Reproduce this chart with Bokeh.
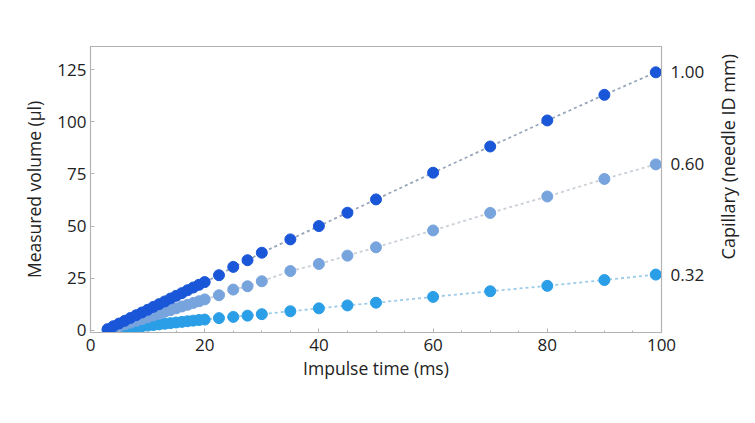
import math
from bokeh.plotting import figure
from bokeh.models import Range1d, LinearAxis, FixedTicker, SingleIntervalTicker, ColumnDataSource
from bokeh.embed import file_html
from bokeh.resources import INLINE

# Impulse time (ms)
time_ms = [3, 4, 5, 6, 7, 8, 9, 10, 11, 12, 13, 14, 15, 16, 17, 18, 19, 20,
           22.5, 25, 27.5, 30, 35, 40, 45, 50, 60, 70, 80, 90, 99]

# Measured volume (µl) per capillary (needle ID mm)
vol_100 = [0.5, 1.9, 3.2, 4.5, 5.9, 7.2, 8.5, 9.8, 11.2, 12.5, 13.8, 15.2, 16.5, 17.8, 19.2, 20.5, 21.8, 23.1,
           26.4, 30.4, 33.6, 37.2, 43.6, 50.0, 56.4, 62.8, 75.6, 88.2, 100.7, 113.0, 123.8]
vol_060 = [0.2, 1.0, 1.9, 2.8, 3.6, 4.5, 5.3, 6.2, 7.1, 7.9, 8.8, 9.6, 10.5, 11.4, 12.2, 13.1, 13.9, 14.8,
           16.8, 19.5, 21.1, 23.5, 28.4, 31.8, 35.8, 39.8, 47.9, 56.3, 64.2, 72.6, 79.6]
vol_032 = [0.1, 0.4, 0.7, 1.0, 1.3, 1.6, 1.9, 2.2, 2.5, 2.8, 3.1, 3.4, 3.7, 4.0, 4.3, 4.6, 4.9, 5.1,
           5.8, 6.4, 7.0, 7.7, 9.1, 10.5, 11.9, 13.2, 16.0, 18.7, 21.3, 24.1, 26.7]

capillary_labels = ["0.32", "0.60", "1.00"]
series = [vol_032, vol_060, vol_100]
dot_colors = ["#2a9ee6", "#78a4de", "#1a56d8"]
line_colors = ["#9ccbe8", "#c9d0d8", "#98a6bb"]

y_ticks = [0, 25, 50, 75, 100, 125]

FONT = "Open Sans"
TXT = "#222222"
GRID = "#b3b3b3"

x_range = Range1d(0, 100)
y_range = Range1d(-1.1, 136.2)

p = figure(width=755, height=418, output_backend="svg", toolbar_location=None,
           x_range=x_range, y_range=y_range,
           min_border_left=90, min_border_right=88, min_border_top=46, min_border_bottom=86)
p.xgrid.visible = False
p.ygrid.visible = False
p.outline_line_color = GRID
p.outline_line_width = 1.2
p.background_fill_color = "white"
p.border_fill_color = "white"

for vals, dc, lc in zip(series, dot_colors, line_colors):
    src = ColumnDataSource(dict(x=time_ms, y=vals))
    p.line("x", "y", source=src, line_color=lc, line_width=1.8, line_dash="3 3")
    p.scatter("x", "y", source=src, size=11, fill_color=dc, line_color=dc)

def style_axis(ax):
    ax.axis_line_color = GRID
    ax.major_tick_line_color = GRID
    ax.minor_tick_line_color = GRID
    ax.major_tick_in = 4
    ax.major_tick_out = 0
    ax.minor_tick_in = 2
    ax.minor_tick_out = 0
    ax.major_label_text_font = FONT
    ax.major_label_text_font_size = "17px"
    ax.major_label_text_color = TXT
    ax.axis_label_text_font = FONT
    ax.axis_label_text_font_size = "17.5px"
    ax.axis_label_text_font_style = "normal"
    ax.axis_label_text_color = TXT

xa = p.xaxis[0]
xa.ticker = SingleIntervalTicker(interval=20, num_minor_ticks=4)
xa.axis_label = "Impulse time (ms)"
style_axis(xa)
xa.major_label_standoff = 6
xa.axis_label_standoff = 2

ya = p.yaxis[0]
ya.ticker = FixedTicker(ticks=y_ticks)
ya.axis_label = "Measured volume (µl)"
style_axis(ya)
ya.minor_tick_in = 0
ya.major_label_standoff = 4
ya.axis_label_standoff = 8

right = LinearAxis(ticker=FixedTicker(ticks=[s[-1] for s in series]),
                   major_label_overrides={s[-1]: lab for s, lab in zip(series, capillary_labels)})
style_axis(right)
right.major_tick_in = 0
right.major_label_standoff = 9
p.add_layout(right, "right")

# Right-hand title, drawn as the single label of an outer axis so it reads bottom-to-top
title_anchor = 34.0
right_title = LinearAxis(ticker=FixedTicker(ticks=[title_anchor]),
                         major_label_overrides={title_anchor: "Capillary (needle ID mm)"})
style_axis(right_title)
right_title.axis_line_color = None
right_title.major_tick_line_color = None
right_title.major_tick_in = 0
right_title.major_label_text_font_size = "18px"
right_title.major_label_orientation = math.pi / 2
right_title.major_label_standoff = 21
p.add_layout(right_title, "right")

open("out.html", "w").write(file_html(p, INLINE))
